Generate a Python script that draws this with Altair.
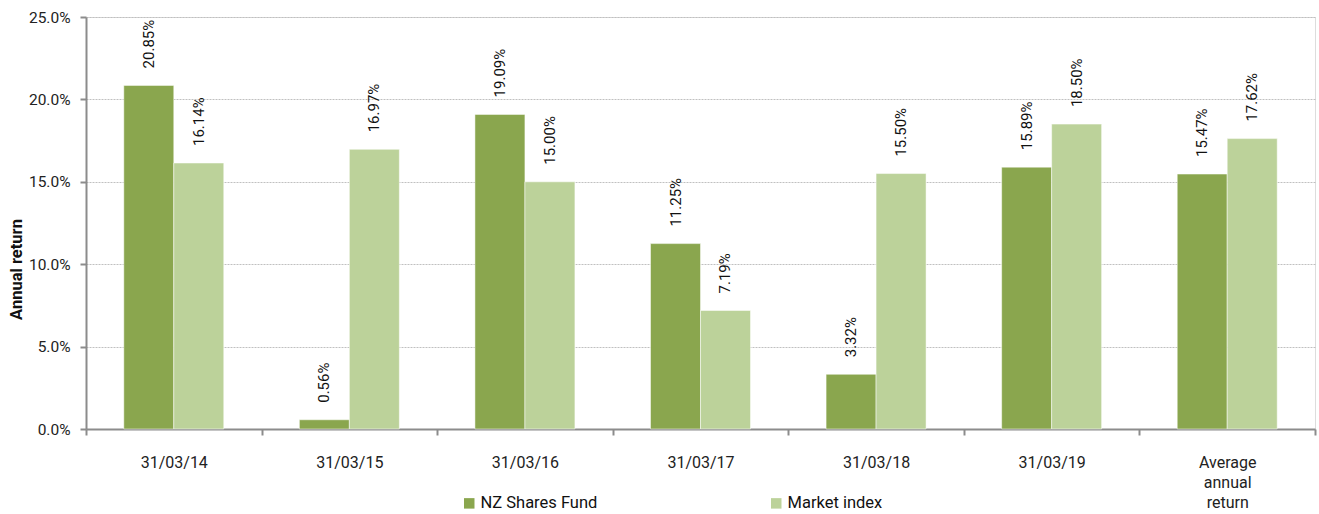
import altair as alt
import pandas as pd

categories = ["31/03/14", "31/03/15", "31/03/16", "31/03/17", "31/03/18", "31/03/19", "Average annual return"]
series_names = ["NZ Shares Fund", "Market index"]
fund_values = [20.85, 0.56, 19.09, 11.25, 3.32, 15.89, 15.47]
index_values = [16.14, 16.97, 15.00, 7.19, 15.50, 18.50, 17.62]
y_ticks = [0, 5, 10, 15, 20, 25]
colors = ["#8aa64e", "#bcd29a"]

rows = []
for c, f, m in zip(categories, fund_values, index_values):
    rows.append({"cat": c, "series": series_names[0], "value": f})
    rows.append({"cat": c, "series": series_names[1], "value": m})
df = pd.DataFrame(rows)

FONT = "Roboto"

x_enc = alt.X(
    "cat:N",
    sort=categories,
    scale=alt.Scale(paddingInner=0, paddingOuter=0),
    axis=alt.Axis(
        title=None,
        labelAngle=0,
        labelFont=FONT,
        labelFontSize=16,
        labelColor="#222222",
        labelPadding=19,
        labelLineHeight=20,
        labelExpr="datum.label == 'Average annual return' ? ['Average', 'annual', 'return'] : datum.label",
        tickBand="extent",
        tickColor="#8c8c8c",
        tickWidth=2,
        tickSize=6,
        domainColor="#8c8c8c",
        domainWidth=2,
        grid=False,
    ),
)

y_enc = alt.Y(
    "value:Q",
    scale=alt.Scale(domain=[0, 25], nice=False),
    axis=alt.Axis(
        title="Annual return",
        titleFont=FONT,
        titleFontSize=16.5,
        titleFontWeight="bold",
        titleColor="#111111",
        titleX=-70,
        titleY=252,
        titleAngle=270,
        titleAlign="center",
        titleBaseline="middle",
        values=y_ticks,
        labelExpr="format(datum.value, '.1f') + '%'",
        labelFont=FONT,
        labelFontSize=15.5,
        labelColor="#222222",
        labelPadding=10,
        tickColor="#8c8c8c",
        tickWidth=2,
        tickSize=6,
        domainColor="#8c8c8c",
        domainWidth=2,
        gridColor="#c0c0c0",
        gridDash=[2, 1],
        gridWidth=1,
    ),
)

color_enc = alt.Color(
    "series:N",
    sort=series_names,
    scale=alt.Scale(domain=series_names, range=colors),
    legend=alt.Legend(
        title=None,
        orient="none",
        legendX=375,
        legendY=478,
        direction="horizontal",
        columns=2,
        columnPadding=170,
        symbolType="square",
        symbolSize=110,
        symbolStrokeWidth=0,
        labelFont=FONT,
        labelFontSize=16.5,
        labelColor="#111111",
        labelOffset=3,
        labelLimit=300,
    ),
)

base = alt.Chart(df).encode(
    x=x_enc,
    xOffset=alt.XOffset("series:N", sort=series_names, scale=alt.Scale(paddingInner=0, paddingOuter=0.756)),
)

bars = base.mark_bar(stroke="white", strokeWidth=0.5).encode(y=y_enc, color=color_enc)

labels = base.transform_calculate(
    lbl="format(datum.value, '.2f') + '%'"
).mark_text(
    angle=270, align="left", baseline="middle", dx=17, font=FONT, fontSize=15, color="#111111"
).encode(y="value:Q", text="lbl:N")

chart = alt.layer(bars, labels).properties(
    width=1229,
    height=412,
    padding={"left": 86, "top": 17, "right": 4, "bottom": 85},
    autosize=alt.AutoSizeParams(type="none"),
).configure_view(stroke=None).configure(background="white")

chart.save("out.html", embed_options={"renderer": "svg", "actions": False})
